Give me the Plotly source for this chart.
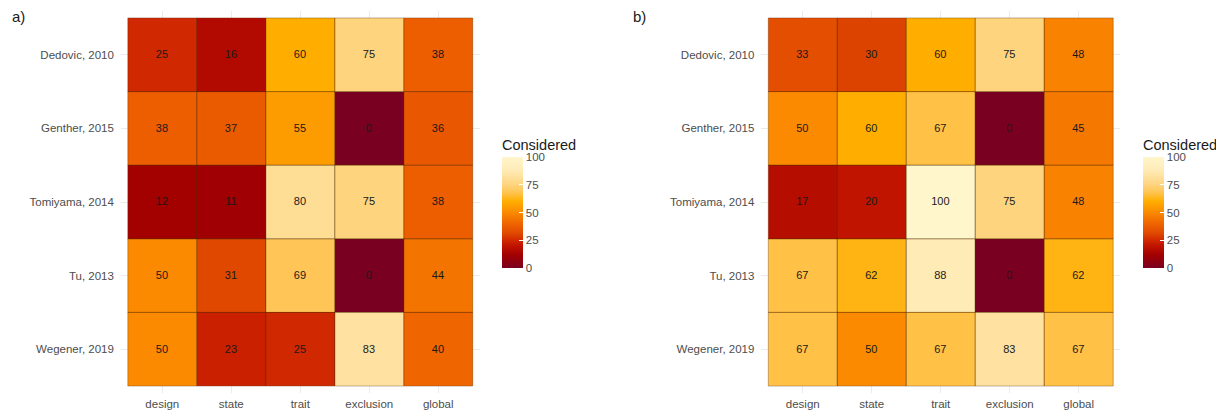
import plotly.graph_objects as go

# Studies (rows) and rating criteria (columns)
studies = ["Dedovic, 2010", "Genther, 2015", "Tomiyama, 2014", "Tu, 2013", "Wegener, 2019"]
criteria = ["design", "state", "trait", "exclusion", "global"]

# Percentage of items considered, panel a)
considered_a = [
    [25, 16, 60, 75, 38],
    [38, 37, 55, 0, 36],
    [12, 11, 80, 75, 38],
    [50, 31, 69, 0, 44],
    [50, 23, 25, 83, 40],
]

# Percentage of items considered, panel b)
considered_b = [
    [33, 30, 60, 75, 48],
    [50, 60, 67, 0, 45],
    [17, 20, 100, 75, 48],
    [67, 62, 88, 0, 62],
    [67, 50, 67, 83, 67],
]

panel_labels = ["a)", "b)"]
colorbar_title = "Considered"
colorbar_ticks = [0, 25, 50, 75, 100]

heat_scale = [
    [0.00, "#7a0022"],
    [0.12, "#a30000"],
    [0.20, "#c01400"],
    [0.25, "#d02800"],
    [0.31, "#e04800"],
    [0.38, "#ec5e00"],
    [0.50, "#fb8a00"],
    [0.60, "#ffae00"],
    [0.68, "#ffc450"],
    [0.75, "#fed47f"],
    [0.88, "#ffebb6"],
    [1.00, "#fff6cc"],
]

FONT = "Liberation Sans, Arial, Helvetica, sans-serif"
GREY = "#4d4d4d"
W, H = 1216, 414

# pixel layout of the two panels and their colour bars
panels = [
    {"x0": 121, "x1": 480, "cb_x": 502},
    {"x0": 762, "x1": 1121, "cb_x": 1143},
]
panel_top, panel_bottom = 10.6, 393.4
cb_top, cb_bottom = 136, 268   # colour bar block incl. its title

fig = go.Figure()
data_sets = [considered_a, considered_b]

for i, (vals, p) in enumerate(zip(data_sets, panels)):
    xa = "x" if i == 0 else "x2"
    ya = "y" if i == 0 else "y2"
    fig.add_trace(go.Heatmap(
        z=vals,
        x=list(range(len(criteria))),
        y=list(range(len(studies))),
        zmin=0, zmax=100,
        colorscale=heat_scale,
        text=vals,
        texttemplate="%{text}",
        textfont=dict(family=FONT, size=11, color="#1a1a1a"),
        xaxis=xa, yaxis=ya,
        hoverinfo="skip",
        colorbar=dict(
            title=dict(text=colorbar_title, side="top",
                       font=dict(family=FONT, size=14.5, color="#1a1a1a")),
            x=p["cb_x"] / W, xanchor="left", xpad=0,
            y=1 - (cb_top + cb_bottom) / 2 / H, yanchor="middle", ypad=0,
            len=cb_bottom - cb_top, lenmode="pixels",
            thickness=21, thicknessmode="pixels",
            outlinewidth=0,
            tickvals=colorbar_ticks,
            ticks="inside", ticklen=4, tickcolor="white",
            tickfont=dict(family=FONT, size=11.5, color=GREY),
        ),
    ))

    # thin outlines around each tile
    for r in range(len(studies)):
        for c in range(len(criteria)):
            fig.add_shape(
                type="rect", xref=xa, yref=ya,
                x0=c - 0.5, x1=c + 0.5, y0=r - 0.5, y1=r + 0.5,
                line=dict(color="rgba(90,45,0,0.35)", width=1),
                fillcolor="rgba(0,0,0,0)", layer="above",
            )

    axis_common = dict(
        showgrid=True, gridcolor="#ebebeb", gridwidth=1,
        zeroline=False, showline=False, ticks="",
        tickfont=dict(family=FONT, size=11.5, color=GREY),
    )
    xkey = "xaxis" if i == 0 else "xaxis2"
    ykey = "yaxis" if i == 0 else "yaxis2"
    fig.update_layout(**{
        xkey: dict(axis_common,
                   domain=[p["x0"] / W, p["x1"] / W],
                   range=[-0.6, len(criteria) - 0.4],
                   tickvals=list(range(len(criteria))), ticktext=criteria,
                   anchor=ya, ticklabelstandoff=2),
        ykey: dict(axis_common,
                   domain=[1 - panel_bottom / H, 1 - panel_top / H],
                   range=[len(studies) - 0.4, -0.6],
                   tickvals=list(range(len(studies))), ticktext=studies,
                   anchor=xa, ticklabelstandoff=6),
    })

    fig.add_annotation(
        text=panel_labels[i], xref="paper", yref="paper",
        x=(10 if i == 0 else 632) / W, y=1 - 17 / H,
        xanchor="left", yanchor="middle", showarrow=False,
        font=dict(family=FONT, size=15, color="#1a1a1a"),
    )

fig.update_layout(
    template="none",
    width=W, height=H,
    margin=dict(l=0, r=0, t=0, b=0),
    paper_bgcolor="white", plot_bgcolor="white",
    font=dict(family=FONT, color=GREY),
    showlegend=False,
)

fig.write_html("out.html")
